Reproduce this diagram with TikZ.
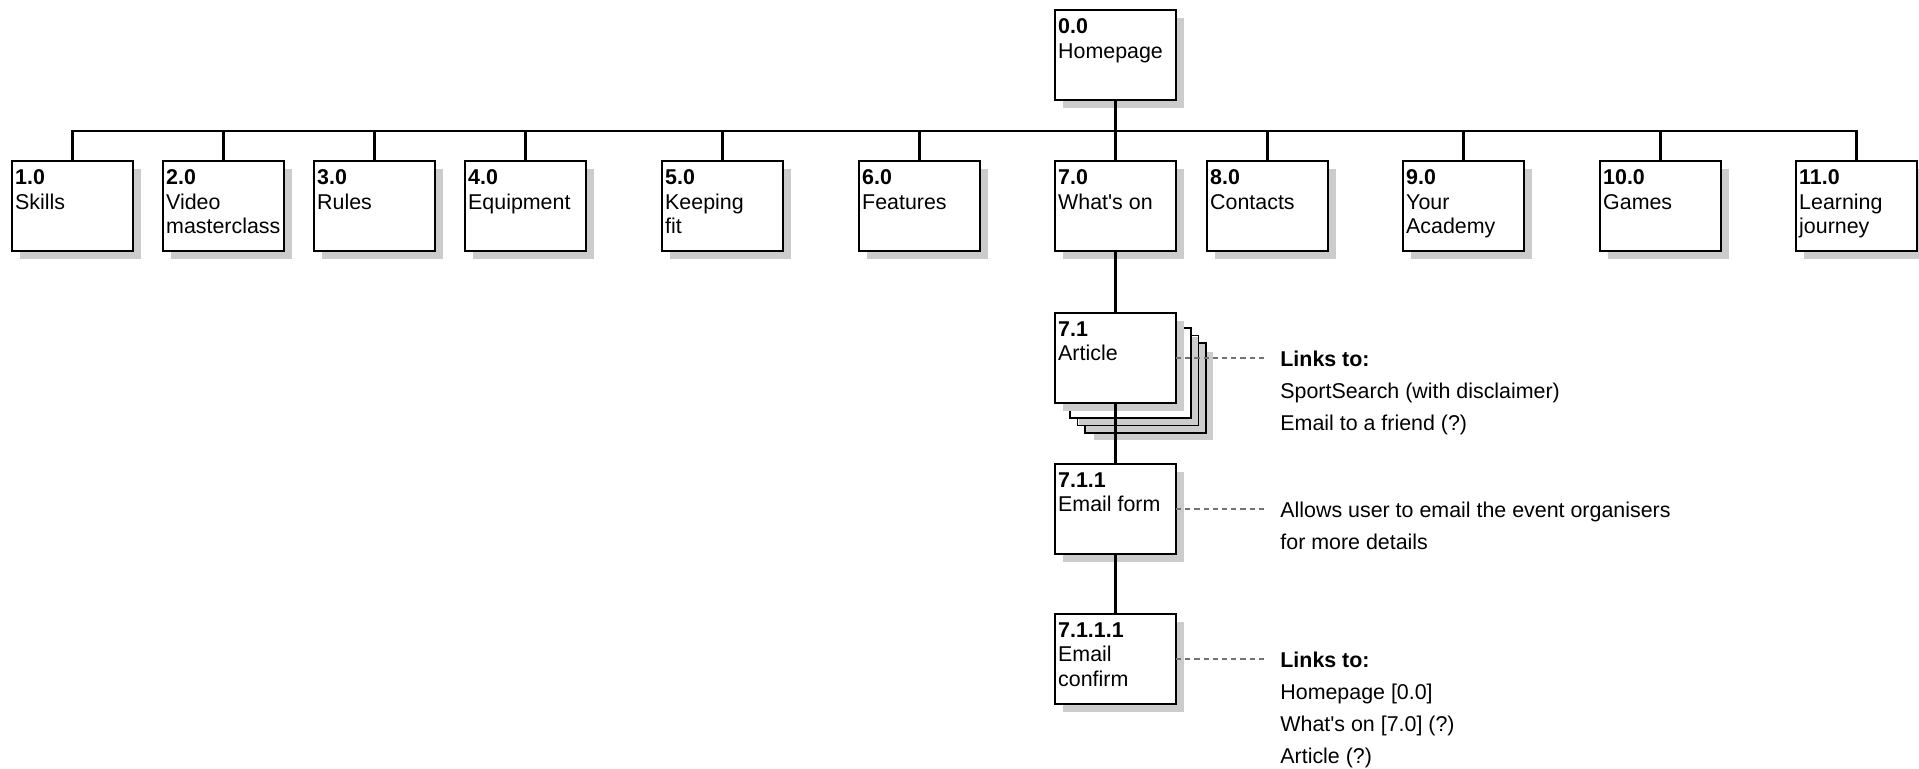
\documentclass[tikz,border=0pt]{standalone}
\usepackage{fontspec}
\setmainfont{Liberation Sans}
\usetikzlibrary{shadows}
\newcommand{\bxt}[2]{\parbox[c][36.34pt][t]{57.3pt}{\raggedright\textbf{#1}\\#2}}
\tikzset{
  pg/.style={draw, line width=0.65pt, fill=white, anchor=north west,
    inner xsep=1.6pt, inner ysep=4.33pt, outer sep=0pt,
    minimum width=60.5pt, minimum height=45pt,
    font=\fontsize{10.7}{12.3}\selectfont,
    general shadow={fill=black!20, shadow xshift=3.75pt, shadow yshift=-3.75pt}},
  backpage/.style={draw, line width=0.65pt, fill=white},
  backshadow/.style={fill=black!20},
  conn/.style={line width=1.3pt},
  notelink/.style={draw=black!55, line width=1.4pt, dash pattern=on 2.6pt off 2pt},
  notetext/.style={anchor=base west, inner sep=0pt, align=left,
    font=\fontsize{10.7}{16}\selectfont}
}
\begin{document}
\begin{tikzpicture}[x=0.5pt,y=-0.5pt]
\useasboundingbox (0,0) rectangle (1919,768);
\coordinate (bar) at (0,131);
\coordinate (dend) at (1267,0);

% stacked pages behind 7.1
\foreach \o in {30,22.5,15} {
  \fill[backshadow] (1055+\o+8.5,313+\o+8.5) rectangle (1176+\o+6.5,403+\o+6.5);
  \draw[backpage] (1055+\o,313+\o) rectangle (1176+\o,403+\o);
}

\node[pg] (n0) at (1055,10) {\bxt{0.0}{Homepage}};
\node[pg] (n1) at (12,161) {\bxt{1.0}{Skills}};
\node[pg] (n2) at (163,161) {\bxt{2.0}{Video\\masterclass}};
\node[pg] (n3) at (314,161) {\bxt{3.0}{Rules}};
\node[pg] (n4) at (465,161) {\bxt{4.0}{Equipment}};
\node[pg] (n5) at (662,161) {\bxt{5.0}{Keeping\\fit}};
\node[pg] (n6) at (859,161) {\bxt{6.0}{Features}};
\node[pg] (n7) at (1055,161) {\bxt{7.0}{What\textquotesingle s on}};
\node[pg] (n8) at (1207,161) {\bxt{8.0}{Contacts}};
\node[pg] (n9) at (1403,161) {\bxt{9.0}{Your\\Academy}};
\node[pg] (n10) at (1600,161) {\bxt{10.0}{Games}};
\node[pg] (n11) at (1796,161) {\bxt{11.0}{Learning\\journey}};
\node[pg] (n71) at (1055,313) {\bxt{7.1}{Article}};
\node[pg] (n711) at (1055,464) {\bxt{7.1.1}{Email form}};
\node[pg] (n7111) at (1055,614) {\bxt{7.1.1.1}{Email\\confirm}};

% tree connectors
\draw[conn] (n0.south) -- (n7.north);
\draw[conn] (n1.north) -- (n1.north |- bar) -- (n11.north |- bar) -- (n11.north);
\foreach \n in {n2,n3,n4,n5,n6,n8,n9,n10} {
  \draw[conn] (\n.north) -- (\n.north |- bar);
}
\draw[conn] (n7.south) -- (n71.north);
\draw[conn] (n71.south) -- (n711.north);
\draw[conn] (n711.south) -- (n7111.north);

% notes
\draw[notelink] (n71.east) -- (n71.east -| dend);
\draw[notelink] (n711.east) -- (n711.east -| dend);
\draw[notelink] (n7111.east) -- (n7111.east -| dend);

% base anchor = baseline of the last line
\node[notetext] (a1) at (1280,430) {\textbf{Links to:}\\SportSearch (with disclaimer)\\Email to a friend (?)};
\node[notetext] (a2) at (1280,549.5) {Allows user to email the event organisers\\for more details};
\node[notetext] (a3) at (1280,763) {\textbf{Links to:}\\Homepage [0.0]\\What\textquotesingle s on [7.0] (?)\\Article (?)};
\end{tikzpicture}
\end{document}
